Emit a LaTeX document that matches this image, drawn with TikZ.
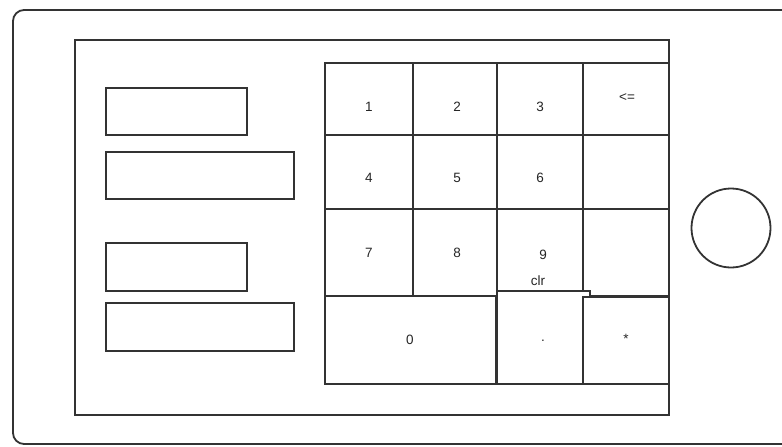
\documentclass[tikz,border=0pt]{standalone}
\usepackage{fontspec}
\setmainfont{Liberation Sans}
\begin{document}
\begin{tikzpicture}[x=1pt,y=-1pt,
  ln/.style={draw=black!80, line width=1.8pt},
  key/.style={ln, fill=white},
  lbl/.style={font=\fontsize{13.5}{15}\selectfont, text=black!85, inner sep=0pt}]
\useasboundingbox (0,0) rectangle (782,447);
% device body (right side runs off the picture)
\draw[ln, rounded corners=11pt] (13,10) rectangle (800,444);
% screen frame
\draw[ln] (75,40) rectangle (669,415);
% display fields
\draw[ln] (106,88) rectangle (247,135);
\draw[ln] (106,152) rectangle (294,199);
\draw[ln] (106,243) rectangle (247,291);
\draw[ln] (106,303) rectangle (294,351);
% keypad rows 1-3
\foreach \xa/\xb in {325/413,413/497,497/583,583/669}{
  \draw[key] (\xa,63) rectangle (\xb,135);
  \draw[key] (\xa,135) rectangle (\xb,209);
  \draw[key] (\xa,209) rectangle (\xb,296);
}
% bottom row
\draw[key] (325,296) rectangle (496,384);
\draw[key] (497,291) rectangle (590,384);
\draw[key] (583,297) rectangle (669,384);
% labels
\node[lbl] (k1) at (369,107) {1};
\node[lbl] (k2) at (457,107) {2};
\node[lbl] (k3) at (540,107) {3};
\node[lbl] (kb) at (627,98) {<=};
\node[lbl] (k4) at (369,178) {4};
\node[lbl] (k5) at (457,178) {5};
\node[lbl] (k6) at (540,178) {6};
\node[lbl] (k7) at (369,253) {7};
\node[lbl] (k8) at (457,253) {8};
\node[lbl] (k9) at (543,255) {9};
\node[lbl] (kc) at (538,281) {clr};
\node[lbl] (k0) at (410,340) {0};
\node[lbl] (kd) at (543,341) {.};
\node[lbl] (ks) at (626,339) {*};
% button
\draw[ln] (731,228) circle (39.5);
\end{tikzpicture}
\end{document}
